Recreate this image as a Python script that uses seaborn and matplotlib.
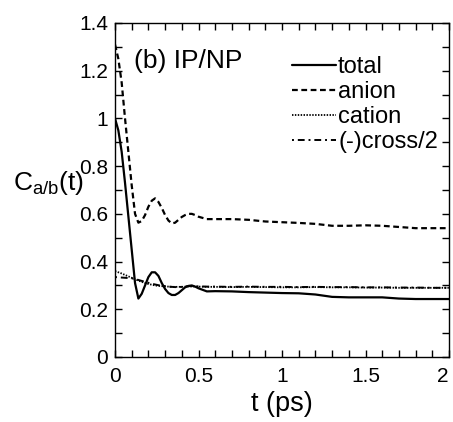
import pandas as pd
import seaborn as sns
import matplotlib.pyplot as plt
from matplotlib.ticker import MultipleLocator, FuncFormatter

# time grid (ps)
t = [0.00, 0.02, 0.04, 0.06, 0.08, 0.10, 0.12, 0.14, 0.16, 0.18,
     0.20, 0.22, 0.24, 0.26, 0.28, 0.30, 0.32, 0.34, 0.36, 0.38,
     0.40, 0.42, 0.44, 0.46, 0.48, 0.50, 0.55, 0.60, 0.70, 0.80,
     0.90, 1.00, 1.10, 1.20, 1.30, 1.40, 1.50, 1.60, 1.70, 1.80,
     1.90, 2.00]

total = [1.00, 0.95, 0.86, 0.73, 0.59, 0.45, 0.31, 0.245, 0.265, 0.30,
         0.335, 0.355, 0.355, 0.34, 0.31, 0.285, 0.268, 0.26, 0.26, 0.268,
         0.28, 0.292, 0.298, 0.30, 0.295, 0.288, 0.275, 0.276, 0.275, 0.272,
         0.27, 0.268, 0.267, 0.262, 0.252, 0.25, 0.25, 0.25, 0.245, 0.243,
         0.243, 0.243]

anion = [1.31, 1.25, 1.15, 1.00, 0.86, 0.72, 0.60, 0.563, 0.57, 0.595,
         0.63, 0.655, 0.665, 0.65, 0.625, 0.595, 0.572, 0.56, 0.563, 0.575,
         0.587, 0.595, 0.60, 0.60, 0.595, 0.588, 0.578, 0.578, 0.578, 0.575,
         0.568, 0.565, 0.562, 0.558, 0.55, 0.55, 0.552, 0.55, 0.545, 0.54,
         0.54, 0.54]

cation = [0.36, 0.355, 0.35, 0.344, 0.338, 0.332, 0.326, 0.32, 0.315, 0.31,
          0.306, 0.303, 0.30, 0.298, 0.297, 0.296, 0.295, 0.294, 0.294, 0.294,
          0.294, 0.295, 0.296, 0.296, 0.295, 0.295, 0.294, 0.294, 0.293, 0.294,
          0.293, 0.292, 0.292, 0.293, 0.292, 0.292, 0.291, 0.291, 0.29, 0.29,
          0.29, 0.29]

cross = [0.335, 0.334, 0.333, 0.332, 0.331, 0.33, 0.327, 0.323, 0.319, 0.315,
         0.311, 0.307, 0.304, 0.301, 0.299, 0.297, 0.295, 0.294, 0.293, 0.293,
         0.294, 0.296, 0.297, 0.297, 0.296, 0.296, 0.295, 0.295, 0.294, 0.295,
         0.294, 0.294, 0.293, 0.294, 0.293, 0.293, 0.292, 0.292, 0.291, 0.291,
         0.29, 0.29]

labels = ['total', 'anion', 'cation', '(-)cross/2']
xticks = [0, 0.5, 1, 1.5, 2]

df = pd.DataFrame({'t': t, 'total': total, 'anion': anion,
                   'cation': cation, '(-)cross/2': cross})

sns.set_style("ticks")
plt.rcParams['font.family'] = ['Liberation Sans', 'DejaVu Sans']
plt.rcParams['mathtext.fontset'] = 'custom'
plt.rcParams['mathtext.rm'] = 'Liberation Sans'
plt.rcParams['mathtext.it'] = 'Liberation Sans'
for k in ['axes.edgecolor', 'xtick.color', 'ytick.color', 'text.color', 'axes.labelcolor']:
    plt.rcParams[k] = 'black'

fig = plt.figure(figsize=(4.53, 4.22), dpi=100)
ax = fig.add_axes([115 / 453, 1 - 357 / 422, 334 / 453, 334 / 422])

styles = {
    'total': dict(linestyle='-', lw=1.6),
    'anion': dict(linestyle=(0, (2.6, 1.6)), lw=1.6),
    'cation': dict(linestyle=(0, (0.8, 0.8)), lw=1.3),
    '(-)cross/2': dict(linestyle=(0, (1.0, 2.0, 3.5, 2.0)), lw=1.4),
}
for name in labels:
    sns.lineplot(data=df, x='t', y=name, ax=ax, color='k', label=name, **styles[name])

ax.set_xlim(0, 2)
ax.set_ylim(0, 1.4)
ax.set_xticks(xticks)
ax.set_xticklabels(['%g' % v for v in xticks])
ax.xaxis.set_minor_locator(MultipleLocator(0.1))
ax.yaxis.set_major_locator(MultipleLocator(0.2))
ax.yaxis.set_minor_locator(MultipleLocator(0.1))
ax.yaxis.set_major_formatter(FuncFormatter(lambda v, p: '%g' % round(v, 2)))
ax.tick_params(which='both', direction='in', top=True, right=True, length=5, width=1)
ax.tick_params(axis='x', which='major', labelsize=15, pad=7)
ax.tick_params(axis='y', which='major', labelsize=15, pad=5)
ax.xaxis.get_major_ticks()[-1].label1.set_horizontalalignment('right')
for s in ax.spines.values():
    s.set_linewidth(1.0)

ax.set_xlabel('t (ps)', fontsize=19.5, labelpad=4)
ax.set_ylabel(r'C$_{\rm a/b}$(t)', fontsize=19, rotation=0, ha='left', va='center')
ax.yaxis.set_label_coords(-0.305, 0.52)

ax.text(0.058, 0.885, '(b) IP/NP', transform=ax.transAxes, fontsize=19, va='center', ha='left')

ax.legend(loc='upper left', bbox_to_anchor=(0.53, 0.90), frameon=False, fontsize=17,
          handlelength=1.85, handletextpad=0.1, labelspacing=0.12, borderpad=0,
          borderaxespad=0)

fig.savefig('out.png', dpi=100)
